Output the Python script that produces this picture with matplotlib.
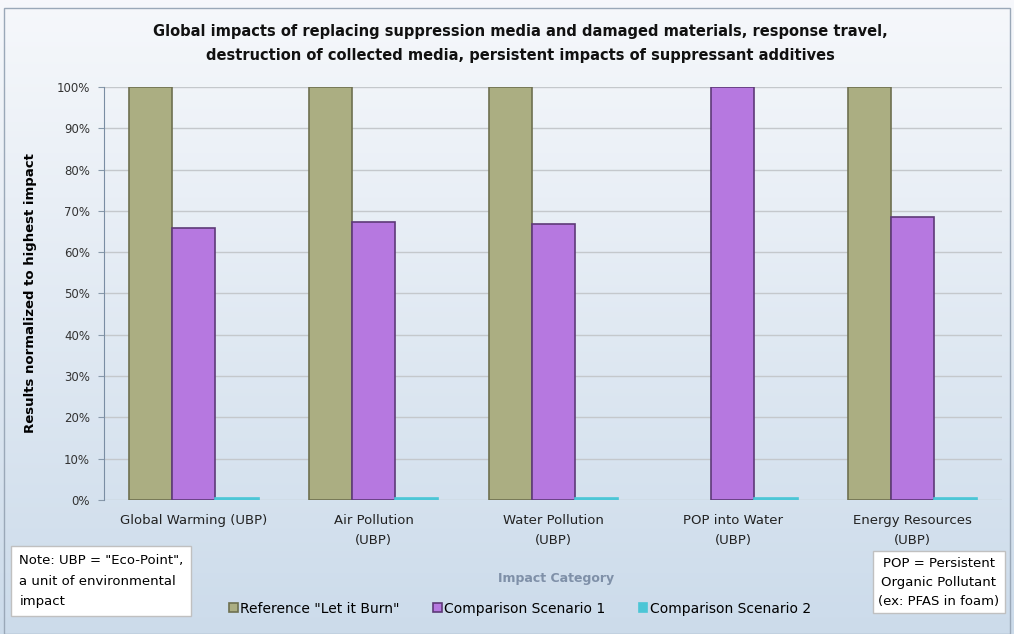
import matplotlib
matplotlib.use('agg')
import matplotlib.pyplot as plt
import numpy as np

categories = ['Global Warming (UBP)', 'Air Pollution\n(UBP)', 'Water Pollution\n(UBP)',
              'POP into Water\n(UBP)', 'Energy Resources\n(UBP)']
reference = [100, 100, 100, 0, 100]
scenario_1 = [65.9, 67.2, 66.8, 100, 68.6]
scenario_2 = [0.4, 0.4, 0.4, 0.4, 0.4]
series_names = ['Reference "Let it Burn"', 'Comparison Scenario 1', 'Comparison Scenario 2']
yticks = [0, 10, 20, 30, 40, 50, 60, 70, 80, 90, 100]

plt.rcParams['font.family'] = ['DejaVu Sans']

fig = plt.figure(figsize=(10.14, 6.34), dpi=100)

# background gradient
bg = fig.add_axes([0, 0, 1, 1], zorder=-10)
grad = np.linspace(0, 1, 256).reshape(-1, 1)
top = np.array([0.965, 0.972, 0.985])
bottom = np.array([0.80, 0.86, 0.92])
img = top + (bottom - top) * grad[:, :, None]
bg.imshow(img, aspect='auto', extent=[0, 1, 0, 1])
bg.set_xlim(0, 1)
bg.set_ylim(0, 1)
bg.set_axis_off()
bg.add_patch(plt.Rectangle((0.004, 0.0), 0.992, 0.987, fill=False, edgecolor='#9aa8b8', linewidth=1))

ax = fig.add_axes([0.1026, 0.2114, 0.886, 0.6514])
ax.patch.set_alpha(0)

x = np.arange(len(categories))
w = 0.24
ref_edges = ['#6e7050' if v > 0 else 'none' for v in reference]
ax.bar(x - w, reference, w, color='#abae82', edgecolor=ref_edges, linewidth=1.2, zorder=3,
       label=series_names[0])
ax.bar(x, scenario_1, w, color='#b678e0', edgecolor='#5e3a78', linewidth=1.2, zorder=3,
       label=series_names[1])
ax.bar(x + w, scenario_2, w, color='#4cc6d6', edgecolor='#4cc6d6', linewidth=1.2, zorder=3,
       label=series_names[2])

ax.set_xlim(-0.5, len(categories) - 0.5)
ax.set_ylim(0, 100)
ax.set_yticks(yticks)
ax.set_yticklabels([f'{t}%' for t in yticks], fontsize=8.5, color='#333333')
ax.set_xticks(x)
ax.set_xticklabels(categories, fontsize=9.5, color='#222222', linespacing=1.7)
ax.tick_params(axis='x', length=0, pad=10)
ax.tick_params(axis='y', length=4, color='#8899aa', pad=6)
ax.yaxis.grid(True, color='#c4c8cc', linewidth=1)
ax.set_axisbelow(True)
for s in ['top', 'right', 'bottom']:
    ax.spines[s].set_visible(False)
ax.spines['left'].set_color('#7a8da3')

ax.set_ylabel('Results normalized to highest impact', fontsize=9.5, fontweight='bold', labelpad=14)

fig.text(0.513, 0.932, 'Global impacts of replacing suppression media and damaged materials, response travel,\n'
         'destruction of collected media, persistent impacts of suppressant additives',
         ha='center', va='center', fontsize=10.5, fontweight='bold', linespacing=1.75, color='#111111')

fig.text(0.548, 0.087, 'Impact Category', ha='center', va='center', fontsize=9,
         fontweight='bold', color='#7f90a8')

leg = fig.legend(loc='center', bbox_to_anchor=(0.513, 0.04), ncol=3, frameon=False,
                 fontsize=10, handlelength=0.6, handleheight=0.6, handletextpad=0.2,
                 columnspacing=2.4)

fig.text(0.019, 0.083, 'Note: UBP = "Eco-Point",\na unit of environmental\nimpact', ha='left', va='center',
         fontsize=9.5, linespacing=1.75,
         bbox=dict(boxstyle='square,pad=0.6', facecolor='white', edgecolor='#c0c0c0'))
fig.text(0.926, 0.082, 'POP = Persistent\nOrganic Pollutant\n(ex: PFAS in foam)', ha='center', va='center',
         fontsize=9.5, linespacing=1.6,
         bbox=dict(boxstyle='square,pad=0.4', facecolor='white', edgecolor='#c0c0c0'))

plt.savefig('out.png', dpi=100)
